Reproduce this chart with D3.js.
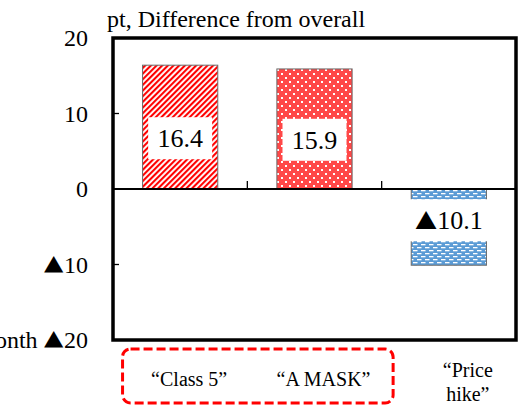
<!DOCTYPE html>
<html lang="en">
<head>
    <meta charset="utf-8">
    <script src='https://d3js.org/d3.v7.min.js'></script>
    <style>
        body { margin: 0; background: #fff; }
        svg text, svg tspan { font-family: 'Liberation Serif', 'Times New Roman', serif !important; }
        svg tspan.tri { font-family: 'Noto Sans CJK JP', 'Liberation Serif', serif !important; }
    </style>
</head>
<body>
</body>

<script>
    var width = 522, height = 406;

    // data
    var categories = ['c5', 'mask', 'price'];
    var categoryLines = [['\u201cClass 5\u201d'], ['\u201cA MASK\u201d'], ['\u201cPrice', 'hike\u201d']];
    var values = [16.4, 15.9, -10.1];
    var valueLabels = ['16.4', '15.9', '\u25b210.1'];
    var yTicks = [20, 10, 0, -10, -20];
    var yTickLabels = ['20', '10', '0', '\u25b210', 'Month \u25b220'];
    var fills = ['url(#stripes)', 'url(#dots)', 'url(#dashes)'];

    var plot = {left: 113, right: 516, top: 38, bottom: 340};

    var svg = d3.select('body').append('svg').attr('width', width).attr('height', height)
        .attr('font-family', 'Liberation Serif');

    // writes a string into a text element, the triangle in a CJK face like the original
    function putText(el, str) {
        var parts = str.split('\u25b2');
        parts.forEach(function(p, i) {
            if (i > 0) el.append('tspan').attr('class', 'tri').attr('font-size', '0.85em').text('\u25b2');
            if (p) el.append('tspan').text(p);
        });
    }

    // fill patterns
    var defs = svg.append('defs');
    var p1 = defs.append('pattern').attr('id', 'stripes')
        .attr('patternUnits', 'userSpaceOnUse').attr('width', 4).attr('height', 4)
        .attr('patternTransform', 'rotate(45)');
    p1.append('rect').attr('width', 4).attr('height', 4).attr('fill', '#fff');
    p1.append('rect').attr('width', 2.1).attr('height', 4).attr('fill', '#ff0000');

    var p2 = defs.append('pattern').attr('id', 'dots')
        .attr('patternUnits', 'userSpaceOnUse').attr('width', 8).attr('height', 8);
    p2.append('rect').attr('width', 8).attr('height', 8).attr('fill', '#ff4848');
    p2.append('rect').attr('x', 1).attr('y', 1).attr('width', 2).attr('height', 2).attr('fill', '#fff');
    p2.append('rect').attr('x', 5).attr('y', 5).attr('width', 2).attr('height', 2).attr('fill', '#fff');

    var p3 = defs.append('pattern').attr('id', 'dashes')
        .attr('patternUnits', 'userSpaceOnUse').attr('width', 8).attr('height', 6);
    p3.append('rect').attr('width', 8).attr('height', 6).attr('fill', '#5b9bd5');
    p3.append('rect').attr('x', 1).attr('y', 1).attr('width', 4.5).attr('height', 1.3).attr('fill', '#fff');
    p3.append('rect').attr('x', 5).attr('y', 4).attr('width', 4.5).attr('height', 1.3).attr('fill', '#fff');
    p3.append('rect').attr('x', -3).attr('y', 4).attr('width', 4.5).attr('height', 1.3).attr('fill', '#fff');

    var x = d3.scaleBand().domain(categories)
        .range([plot.left, plot.right])
        .paddingInner(0.44).paddingOuter(0.22);
    var y = d3.scaleLinear().domain([-20, 20]).range([plot.bottom, plot.top]);

    // title
    svg.append('text').attr('x', 107).attr('y', 27)
        .attr('font-size', 24)
        .text('pt, Difference from overall');

    // y tick labels
    svg.append('g').selectAll('text').data(yTicks).join('text')
        .attr('x', 88).attr('y', function(d) { return y(d); })
        .attr('dy', '0.35em').attr('text-anchor', 'end')
        .attr('font-size', 24)
        .each(function(d, i) { putText(d3.select(this), yTickLabels[i]); });

    // y tick marks (inside)
    svg.append('g').selectAll('line').data(yTicks).join('line')
        .attr('x1', plot.left).attr('x2', plot.left + 6)
        .attr('y1', function(d) { return y(d); }).attr('y2', function(d) { return y(d); })
        .attr('stroke', '#000').attr('stroke-width', 1.3);

    // bars
    svg.append('g').selectAll('rect').data(values).join('rect')
        .attr('x', function(d, i) { return x(categories[i]); })
        .attr('width', x.bandwidth())
        .attr('y', function(d) { return y(Math.max(0, d)); })
        .attr('height', function(d) { return Math.abs(y(d) - y(0)); })
        .attr('fill', function(d, i) { return fills[i]; })
        .attr('stroke', '#6b6b6b').attr('stroke-width', 1);

    // value labels in white boxes
    var lab = svg.append('g').selectAll('g').data(values).join('g')
        .attr('transform', function(d, i) {
            return 'translate(' + (x(categories[i]) + x.bandwidth() / 2) + ',' + y(d * 0.41) + ')';
        });
    lab.append('rect')
        .attr('x', function(d, i) { return -(valueLabels[i].length * 14 + 8) / 2; })
        .attr('width', function(d, i) { return valueLabels[i].length * 14 + 8; })
        .attr('y', -21).attr('height', 42).attr('fill', '#fff');
    lab.append('text').attr('text-anchor', 'middle').attr('dy', '0.35em')
        .attr('font-size', 26)
        .each(function(d, i) { putText(d3.select(this), valueLabels[i]); });

    // zero line and category ticks
    svg.append('line').attr('x1', plot.left).attr('x2', plot.right)
        .attr('y1', y(0)).attr('y2', y(0)).attr('stroke', '#000').attr('stroke-width', 2);
    svg.append('g').selectAll('line').data(categories.slice(1)).join('line')
        .attr('x1', function(d) { return x(d) - x.step() * x.paddingInner() / 2; })
        .attr('x2', function(d) { return x(d) - x.step() * x.paddingInner() / 2; })
        .attr('y1', y(0)).attr('y2', y(0) - 8)
        .attr('stroke', '#000').attr('stroke-width', 1.3);

    // plot frame
    svg.append('rect').attr('x', plot.left).attr('y', plot.top)
        .attr('width', plot.right - plot.left).attr('height', plot.bottom - plot.top)
        .attr('fill', 'none').attr('stroke', '#000').attr('stroke-width', 3.5);

    // category labels
    var cat = svg.append('g').selectAll('text').data(categories).join('text')
        .attr('text-anchor', 'middle')
        .attr('transform', function(d, i) {
            var cx = x(d) + x.bandwidth() / 2 + (categoryLines[i].length > 1 ? 19 : 9);
            return 'translate(' + cx + ',' + (categoryLines[i].length > 1 ? 377 : 386) + ')';
        })
        .attr('font-size', 20);
    cat.selectAll('tspan').data(function(d, i) { return categoryLines[i]; }).join('tspan')
        .attr('x', 0).attr('dy', function(d, j) { return j === 0 ? 0 : 24; })
        .text(function(d) { return d; });

    // red dashed highlight around the first two categories
    var hx0 = x(categories[0]) - 20, hx1 = x(categories[1]) + x.bandwidth() + 41;
    svg.append('rect').attr('x', hx0).attr('y', 349)
        .attr('width', hx1 - hx0).attr('height', 54).attr('rx', 8)
        .attr('fill', 'none').attr('stroke', '#ff0000').attr('stroke-width', 3)
        .attr('stroke-dasharray', '9,4');

    console.log('ready..');
</script>
